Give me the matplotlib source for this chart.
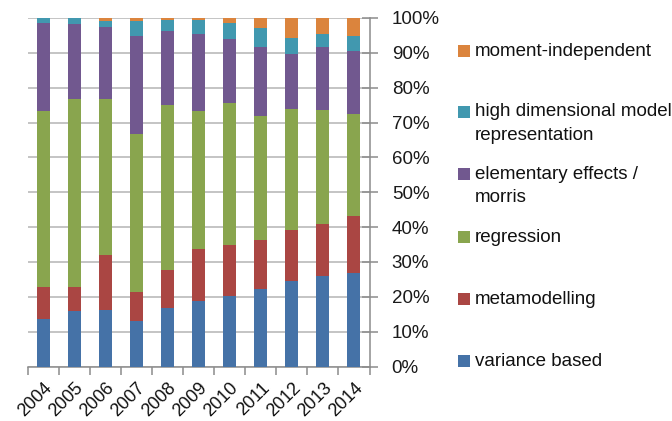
import numpy as np
import matplotlib
matplotlib.use("Agg")
import matplotlib.pyplot as plt
from matplotlib.patches import Rectangle

plt.rcParams["font.family"] = ["Liberation Sans", "DejaVu Sans"]

YEARS = ["2004", "2005", "2006", "2007", "2008", "2009", "2010", "2011", "2012", "2013", "2014"]

# share of each method per year (%), bottom to top
variance_based = [13.6, 15.8, 16.2, 13.0, 16.8, 18.9, 20.1, 22.1, 24.5, 26.1, 26.7]
metamodelling = [9.1, 7.1, 15.8, 8.5, 11.0, 14.8, 14.9, 14.1, 14.6, 14.9, 16.5]
regression = [50.7, 53.8, 44.8, 45.3, 47.1, 39.6, 40.6, 35.7, 34.8, 32.6, 29.2]
elementary = [25.3, 21.6, 20.6, 28.1, 21.4, 22.2, 18.4, 19.9, 15.7, 18.1, 18.0]
hdmr = [1.3, 1.7, 1.8, 4.3, 3.1, 3.9, 4.5, 5.4, 4.7, 3.6, 4.3]
moment_indep = [0.0, 0.0, 0.8, 0.8, 0.6, 0.6, 1.5, 2.8, 5.7, 4.7, 5.3]

SERIES = [
    ("variance based", variance_based, "#4572A7"),
    ("metamodelling", metamodelling, "#AA4643"),
    ("regression", regression, "#89A54E"),
    ("elementary effects /\nmorris", elementary, "#71588F"),
    ("high dimensional model\nrepresentation", hdmr, "#4198AF"),
    ("moment-independent", moment_indep, "#DB843D"),
]

fig = plt.figure(figsize=(6.72, 4.21), dpi=100)
ax = fig.add_axes([28 / 672, 54.5 / 421, 341.5 / 672, 348.5 / 421])

x = np.arange(len(YEARS))
bottom = np.zeros(len(YEARS))
for name, vals, color in SERIES:
    v = np.array(vals, dtype=float)
    ax.bar(x, v, bottom=bottom, width=0.42, color=color, zorder=3)
    bottom += v

ax.set_xlim(-0.5, len(YEARS) - 0.5)
ax.set_ylim(0, 100)

# gridlines + right-hand percentage axis
ax.yaxis.tick_right()
ax.set_yticks(np.arange(0, 101, 10))
ax.set_yticklabels([f"{t}%" for t in range(0, 101, 10)], fontsize=13.5, color="#1a1a1a")
ax.grid(axis="y", color="#b4b4b4", linewidth=1.1, zorder=0)
ax.tick_params(axis="y", which="both", direction="inout", length=12, width=1.1,
               color="#8c8c8c", pad=10)

# category axis: ticks between categories, labels rotated
ax.set_xticks(np.arange(-0.5, len(YEARS), 1.0))
ax.set_xticklabels([])
ax.set_xticks(x, minor=True)
ax.set_xticklabels(YEARS, minor=True, rotation=45, ha="right", rotation_mode="anchor",
                   fontsize=13, color="#111111")
ax.tick_params(axis="x", which="major", direction="out", length=6, width=1.1, color="#8c8c8c")
ax.tick_params(axis="x", which="minor", length=0, pad=9)

for side in ["top", "left"]:
    ax.spines[side].set_visible(False)
for side in ["bottom", "right"]:
    ax.spines[side].set_color("#8c8c8c")
    ax.spines[side].set_linewidth(1.1)

# legend drawn by hand: top entry first, like the reference
legend_y = [51, 112, 174, 237, 299, 361]  # pixel rows from top for each entry
for (name, vals, color), yp in zip(SERIES[::-1], legend_y):
    yf = 1 - yp / 421
    fig.patches.append(Rectangle((458 / 672, yf - 6 / 421), 12 / 672, 12 / 421,
                                 transform=fig.transFigure, facecolor=color,
                                 edgecolor="none"))
    for i, line in enumerate(name.split("\n")):
        fig.text(475 / 672, yf - i * 24 / 421, line, fontsize=13.5, va="center",
                 color="#111111")

fig.savefig("out.png", dpi=100)
